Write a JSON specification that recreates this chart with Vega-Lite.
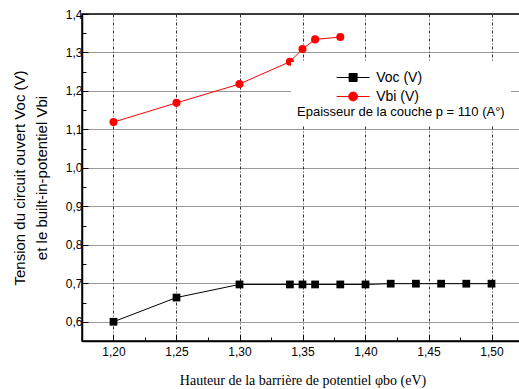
{
  "$schema": "https://vega.github.io/schema/vega-lite/v6.json",
  "width": 441,
  "height": 327,
  "autosize": {"type": "none"},
  "padding": {"left": 82, "top": 14, "right": 0, "bottom": 48},
  "background": "white",
  "config": {"view": {"stroke": "black", "strokeWidth": 1.5}, "font": "Liberation Sans"},
  "data": {"values": [
    {"phi": 1.20, "v": 0.600, "serie": "Voc"},
    {"phi": 1.25, "v": 0.663, "serie": "Voc"},
    {"phi": 1.30, "v": 0.697, "serie": "Voc"},
    {"phi": 1.34, "v": 0.697, "serie": "Voc"},
    {"phi": 1.35, "v": 0.697, "serie": "Voc"},
    {"phi": 1.36, "v": 0.697, "serie": "Voc"},
    {"phi": 1.38, "v": 0.697, "serie": "Voc"},
    {"phi": 1.40, "v": 0.697, "serie": "Voc"},
    {"phi": 1.42, "v": 0.699, "serie": "Voc"},
    {"phi": 1.44, "v": 0.699, "serie": "Voc"},
    {"phi": 1.46, "v": 0.699, "serie": "Voc"},
    {"phi": 1.48, "v": 0.699, "serie": "Voc"},
    {"phi": 1.50, "v": 0.699, "serie": "Voc"},
    {"phi": 1.20, "v": 1.119, "serie": "Vbi"},
    {"phi": 1.25, "v": 1.169, "serie": "Vbi"},
    {"phi": 1.30, "v": 1.218, "serie": "Vbi"},
    {"phi": 1.34, "v": 1.276, "serie": "Vbi"},
    {"phi": 1.35, "v": 1.309, "serie": "Vbi"},
    {"phi": 1.36, "v": 1.334, "serie": "Vbi"},
    {"phi": 1.38, "v": 1.340, "serie": "Vbi"}
  ]},
  "encoding": {
    "x": {
      "field": "phi", "type": "quantitative",
      "scale": {"domain": [1.175, 1.525], "nice": false, "zero": false},
      "axis": {
        "values": [1.175, 1.2, 1.225, 1.25, 1.275, 1.3, 1.325, 1.35, 1.375, 1.4, 1.425, 1.45, 1.475, 1.5, 1.525],
        "labelExpr": "abs(datum.value*20 - round(datum.value*20)) < 0.01 ? replace(format(datum.value, '.2f'), '.', ',') : ''",
        "tickSize": {"condition": {"test": "abs(datum.value*20 - round(datum.value*20)) < 0.01", "value": -6}, "value": -4},
        "gridOpacity": {"condition": {"test": "abs(datum.value*20 - round(datum.value*20)) < 0.01", "value": 1}, "value": 0},
        "grid": true, "gridDash": [3, 2, 1, 2], "gridColor": "#333", "gridWidth": 1,
        "domainColor": "black", "domainWidth": 1.5, "tickColor": "black", "tickWidth": 1,
        "labelFontSize": 12, "labelColor": "black", "labelPadding": 11, "labelFlush": false, "labelOverlap": false,
        "title": "Hauteur de la barrière de potentiel φbo (eV)",
        "titleFont": "Liberation Serif", "titleFontSize": 14, "titleFontWeight": "normal", "titleColor": "black", "titlePadding": 14
      }
    },
    "y": {
      "field": "v", "type": "quantitative",
      "scale": {"domain": [0.55, 1.4], "nice": false, "zero": false},
      "axis": {
        "values": [0.55, 0.6, 0.65, 0.7, 0.75, 0.8, 0.85, 0.9, 0.95, 1.0, 1.05, 1.1, 1.15, 1.2, 1.25, 1.3, 1.35, 1.4],
        "labelExpr": "abs(datum.value*10 - round(datum.value*10)) < 0.01 ? replace(format(datum.value, '.1f'), '.', ',') : ''",
        "tickSize": {"condition": {"test": "abs(datum.value*10 - round(datum.value*10)) < 0.01", "value": -6}, "value": -4},
        "gridOpacity": {"condition": {"test": "abs(datum.value*10 - round(datum.value*10)) < 0.01", "value": 1}, "value": 0},
        "grid": true, "gridDash": [1, 1], "gridColor": "#333", "gridWidth": 1,
        "domainColor": "black", "domainWidth": 1.5, "tickColor": "black", "tickWidth": 1,
        "labelFontSize": 12, "labelColor": "black", "labelPadding": 6, "labelFlush": false, "labelOverlap": false,
        "title": ["Tension du circuit ouvert Voc (V)", "et le built-in-potentiel Vbi"],
        "titleFontSize": 15, "titleFontWeight": "normal", "titleColor": "black", "titleLineHeight": 22, "titlePadding": 16
      }
    },
    "color": {
      "field": "serie", "type": "nominal",
      "scale": {"domain": ["Voc", "Vbi"], "range": ["black", "red"]},
      "legend": {
        "orient": "none", "legendX": 209, "legendY": 48,
        "title": "Epaisseur de la couche p = 110 (A°)",
        "titleOrient": "bottom", "titleAnchor": "start", "titleFontWeight": "normal", "titleFontSize": 13,
        "titleColor": "black", "titlePadding": 2, "titleLimit": 0,
        "labelFontSize": 14, "labelColor": "black",
        "labelExpr": "datum.value == 'Voc' ? 'Voc (V)' : 'Vbi (V)'",
        "fillColor": "white", "padding": 6,
        "symbolSize": 316, "symbolStrokeWidth": 1, "symbolOffset": 46.6, "labelOffset": 13.6,
        "encode": {"symbols": {"update": {
          "shape": {"signal": "datum.value == 'Voc' ? 'M-1.85,0H1.85M-0.45,-0.45H0.45V0.45H-0.45Z' : 'M-1.85,0H1.85M0.5,0A0.5,0.5 0 1 1 -0.5,0A0.5,0.5 0 1 1 0.5,0Z'"},
          "fill": {"signal": "datum.value == 'Voc' ? 'black' : 'red'"},
          "stroke": {"signal": "datum.value == 'Voc' ? 'black' : 'red'"},
          "strokeWidth": {"value": 1},
          "opacity": {"value": 1}
        }}}
      }
    }
  },
  "layer": [
    {"mark": {"type": "line", "strokeWidth": 1}},
    {
      "transform": [{"filter": "datum.serie == 'Voc'"}],
      "mark": {"type": "point", "filled": true, "size": 60, "opacity": 1, "shape": "square"}
    },
    {
      "transform": [{"filter": "datum.serie == 'Vbi'"}],
      "mark": {"type": "point", "filled": true, "size": 65, "opacity": 1, "shape": "circle"}
    }
  ]
}
